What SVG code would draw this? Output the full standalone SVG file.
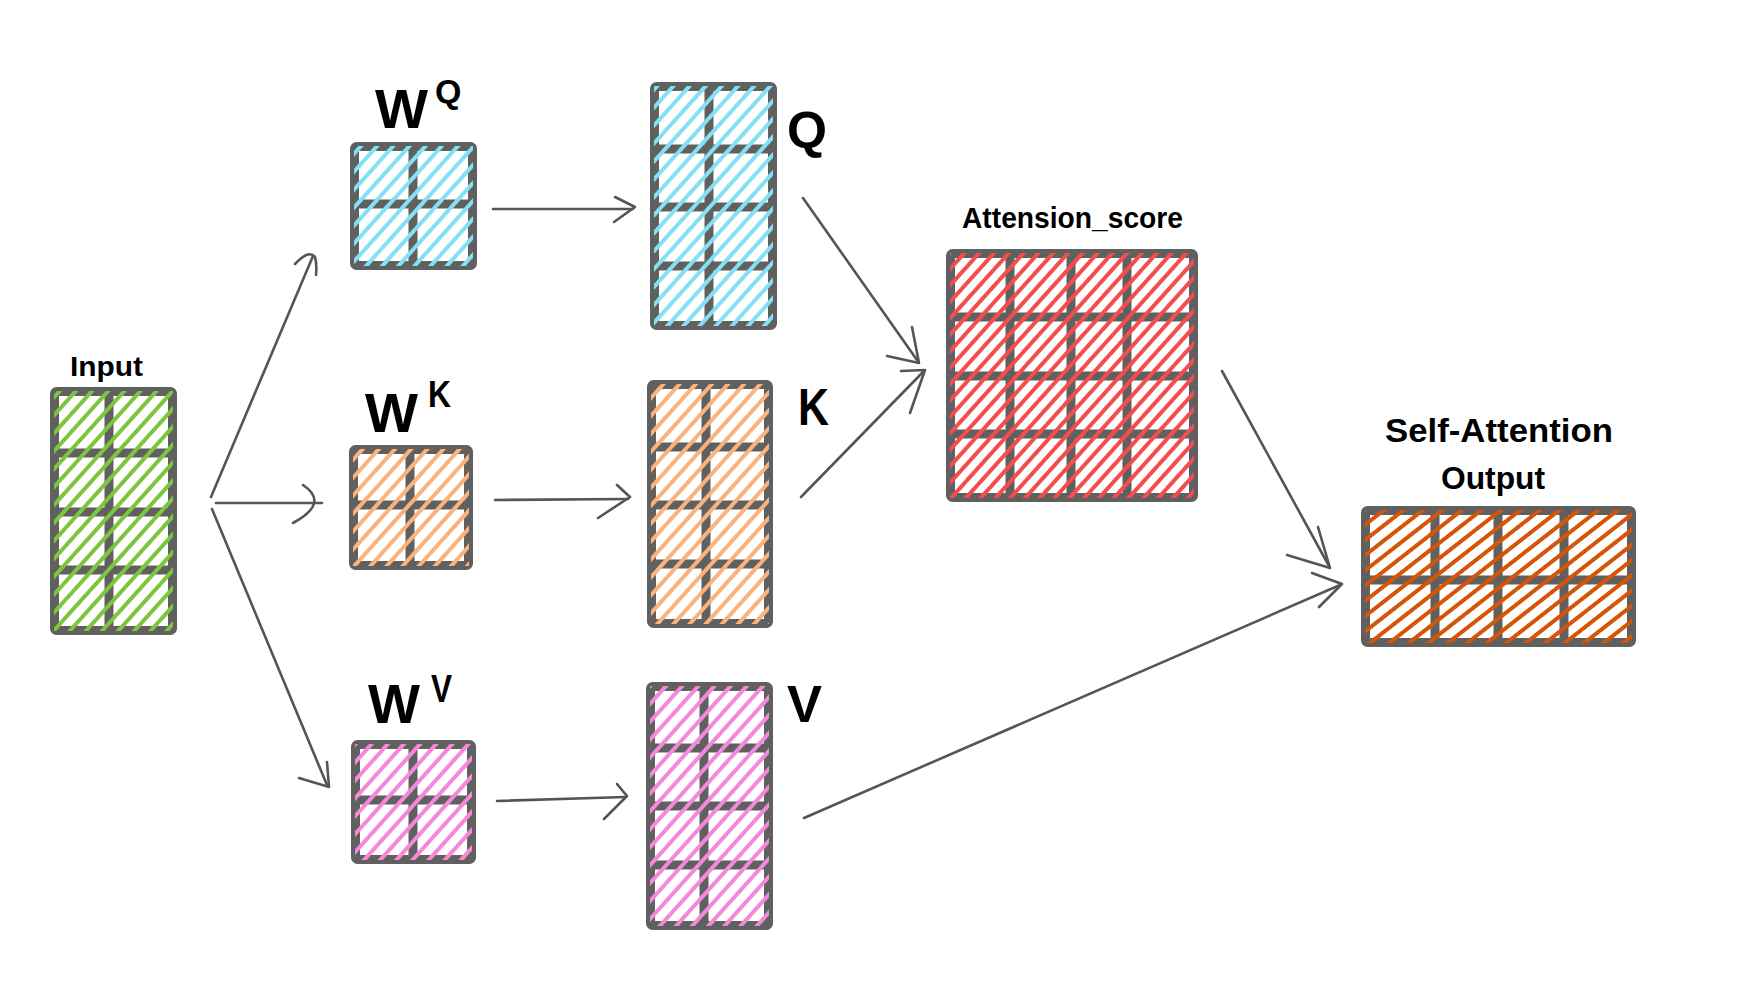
<svg xmlns="http://www.w3.org/2000/svg" width="1743" height="1000" viewBox="0 0 1743 1000">
<style>
.box{fill:#fff;stroke:#606060;stroke-width:9;stroke-linejoin:round}
.div{stroke:#606060;stroke-width:9}
.lbl{font-family:"Liberation Sans","DejaVu Sans",sans-serif;font-weight:bold;fill:#000}
.con line,.con path{stroke:#555;stroke-width:2.6;fill:none;stroke-linecap:round;stroke-linejoin:round}
</style>
<defs>
<pattern id="hG" patternUnits="userSpaceOnUse" width="12" height="12" patternTransform="rotate(-48)"><rect y="4" width="12" height="4" fill="#7bc63c"/></pattern>
<pattern id="hC" patternUnits="userSpaceOnUse" width="12" height="12" patternTransform="rotate(-48)"><rect y="4" width="12" height="4" fill="#80e1f7"/></pattern>
<pattern id="hO" patternUnits="userSpaceOnUse" width="12" height="12" patternTransform="rotate(-48)"><rect y="4" width="12" height="4" fill="#fbb27c"/></pattern>
<pattern id="hP" patternUnits="userSpaceOnUse" width="12" height="12" patternTransform="rotate(-48)"><rect y="4" width="12" height="4" fill="#f787d9"/></pattern>
<pattern id="hR" patternUnits="userSpaceOnUse" width="11" height="11" patternTransform="rotate(-48)"><rect y="4" width="11" height="4" fill="#f44d4d"/></pattern>
<pattern id="hD" patternUnits="userSpaceOnUse" width="12" height="12" patternTransform="rotate(-38)"><rect y="4" width="12" height="4" fill="#d45408"/></pattern>
</defs>

<g id="input">
<rect class="box" x="54.5" y="391.5" width="118" height="239" rx="2"/>
<line class="div" x1="109" y1="387" x2="109" y2="635"/>
<line class="div" x1="50" y1="453" x2="177" y2="453"/>
<line class="div" x1="50" y1="512" x2="177" y2="512"/>
<line class="div" x1="50" y1="570" x2="177" y2="570"/>
<rect x="54" y="391" width="119" height="240" fill="url(#hG)"/>
<text class="lbl" x="70" y="376" font-size="28" textLength="73" lengthAdjust="spacingAndGlyphs">Input</text>
</g>

<g id="wq">
<rect class="box" x="354.5" y="146.5" width="118" height="119" rx="2"/>
<line class="div" x1="413" y1="142" x2="413" y2="270"/>
<line class="div" x1="350" y1="204" x2="477" y2="204"/>
<rect x="354" y="146" width="119" height="120" fill="url(#hC)"/>
<text class="lbl" x="375" y="128" font-size="56" textLength="53" lengthAdjust="spacingAndGlyphs">W</text>
<text class="lbl" x="435" y="103" font-size="34">Q</text>
</g>

<g id="wk">
<rect class="box" x="353.5" y="449.5" width="115" height="116" rx="2"/>
<line class="div" x1="410" y1="445" x2="410" y2="570"/>
<line class="div" x1="349" y1="505" x2="473" y2="505"/>
<rect x="353" y="449" width="116" height="117" fill="url(#hO)"/>
<text class="lbl" x="365" y="432" font-size="56" textLength="53" lengthAdjust="spacingAndGlyphs">W</text>
<text class="lbl" x="428" y="407" font-size="36" textLength="23" lengthAdjust="spacingAndGlyphs">K</text>
</g>

<g id="wv">
<rect class="box" x="355.5" y="744.5" width="116" height="115" rx="2"/>
<line class="div" x1="413" y1="740" x2="413" y2="864"/>
<line class="div" x1="351" y1="800" x2="476" y2="800"/>
<rect x="355" y="744" width="117" height="116" fill="url(#hP)"/>
<text class="lbl" x="368" y="723" font-size="56" textLength="52" lengthAdjust="spacingAndGlyphs">W</text>
<text class="lbl" x="431" y="702" font-size="38" textLength="21" lengthAdjust="spacingAndGlyphs">V</text>
</g>

<g id="q">
<rect class="box" x="654.5" y="86.5" width="118" height="239" rx="2"/>
<line class="div" x1="709" y1="82" x2="709" y2="330"/>
<line class="div" x1="650" y1="149" x2="777" y2="149"/>
<line class="div" x1="650" y1="207" x2="777" y2="207"/>
<line class="div" x1="650" y1="266" x2="777" y2="266"/>
<rect x="654" y="86" width="119" height="240" fill="url(#hC)"/>
<text class="lbl" x="787" y="148" font-size="52" textLength="40" lengthAdjust="spacingAndGlyphs">Q</text>
</g>

<g id="k">
<rect class="box" x="651.5" y="384.5" width="117" height="239" rx="2"/>
<line class="div" x1="706" y1="380" x2="706" y2="628"/>
<line class="div" x1="647" y1="447" x2="773" y2="447"/>
<line class="div" x1="647" y1="505" x2="773" y2="505"/>
<line class="div" x1="647" y1="564" x2="773" y2="564"/>
<rect x="651" y="384" width="118" height="240" fill="url(#hO)"/>
<text class="lbl" x="798" y="425" font-size="52" textLength="31" lengthAdjust="spacingAndGlyphs">K</text>
</g>

<g id="v">
<rect class="box" x="650.5" y="686.5" width="118" height="239" rx="2"/>
<line class="div" x1="704" y1="682" x2="704" y2="930"/>
<line class="div" x1="646" y1="748" x2="773" y2="748"/>
<line class="div" x1="646" y1="806" x2="773" y2="806"/>
<line class="div" x1="646" y1="865" x2="773" y2="865"/>
<rect x="650" y="686" width="119" height="240" fill="url(#hP)"/>
<text class="lbl" x="787" y="722" font-size="52" textLength="35" lengthAdjust="spacingAndGlyphs">V</text>
</g>

<g id="score">
<rect class="box" x="950.5" y="253.5" width="243" height="244" rx="2"/>
<line class="div" x1="1010" y1="249" x2="1010" y2="502"/>
<line class="div" x1="1071" y1="249" x2="1071" y2="502"/>
<line class="div" x1="1127" y1="249" x2="1127" y2="502"/>
<line class="div" x1="946" y1="317" x2="1198" y2="317"/>
<line class="div" x1="946" y1="376" x2="1198" y2="376"/>
<line class="div" x1="946" y1="434" x2="1198" y2="434"/>
<rect x="950" y="253" width="244" height="245" fill="url(#hR)"/>
<text class="lbl" x="962" y="228" font-size="29" textLength="221" lengthAdjust="spacingAndGlyphs">Attension_score</text>
</g>

<g id="output">
<rect class="box" x="1365.5" y="510.5" width="266" height="132" rx="2"/>
<line class="div" x1="1435" y1="506" x2="1435" y2="647"/>
<line class="div" x1="1498" y1="506" x2="1498" y2="647"/>
<line class="div" x1="1564" y1="506" x2="1564" y2="647"/>
<line class="div" x1="1361" y1="580" x2="1636" y2="580"/>
<rect x="1365" y="510" width="267" height="133" fill="url(#hD)"/>
<text class="lbl" x="1385" y="442" font-size="33" textLength="228" lengthAdjust="spacingAndGlyphs">Self-Attention</text>
<text class="lbl" x="1441" y="489" font-size="32" textLength="104" lengthAdjust="spacingAndGlyphs">Output</text>
</g>

<g id="connectors" class="con">
<line x1="211" y1="497" x2="313" y2="256"/>
<path d="M295,264 Q309,249 315,257 Q317,264 316,275"/>
<line x1="216" y1="503" x2="322" y2="503"/>
<path d="M303,485 Q330,503 293,523"/>
<line x1="212" y1="509" x2="327" y2="785"/>
<path d="M327,762 L329,787 L299,778"/>
<line x1="493" y1="209" x2="633" y2="209"/>
<path d="M615,197 L635,207 L614,222"/>
<line x1="495" y1="500" x2="628" y2="499"/>
<path d="M617,485 L630,497 L598,518"/>
<line x1="497" y1="801" x2="625" y2="797"/>
<path d="M617,784 L627,796 L604,819"/>
<line x1="803" y1="198" x2="917" y2="360"/>
<path d="M912,327 L919,363 L887,356"/>
<line x1="801" y1="497" x2="923" y2="372"/>
<path d="M901,371 L925,370 L910,413"/>
<line x1="1222" y1="371" x2="1329" y2="566"/>
<path d="M1318,527 L1330,568 L1287,555"/>
<line x1="804" y1="818" x2="1340" y2="585"/>
<path d="M1312,573 L1342,584 L1319,607"/>
</g>
</svg>
